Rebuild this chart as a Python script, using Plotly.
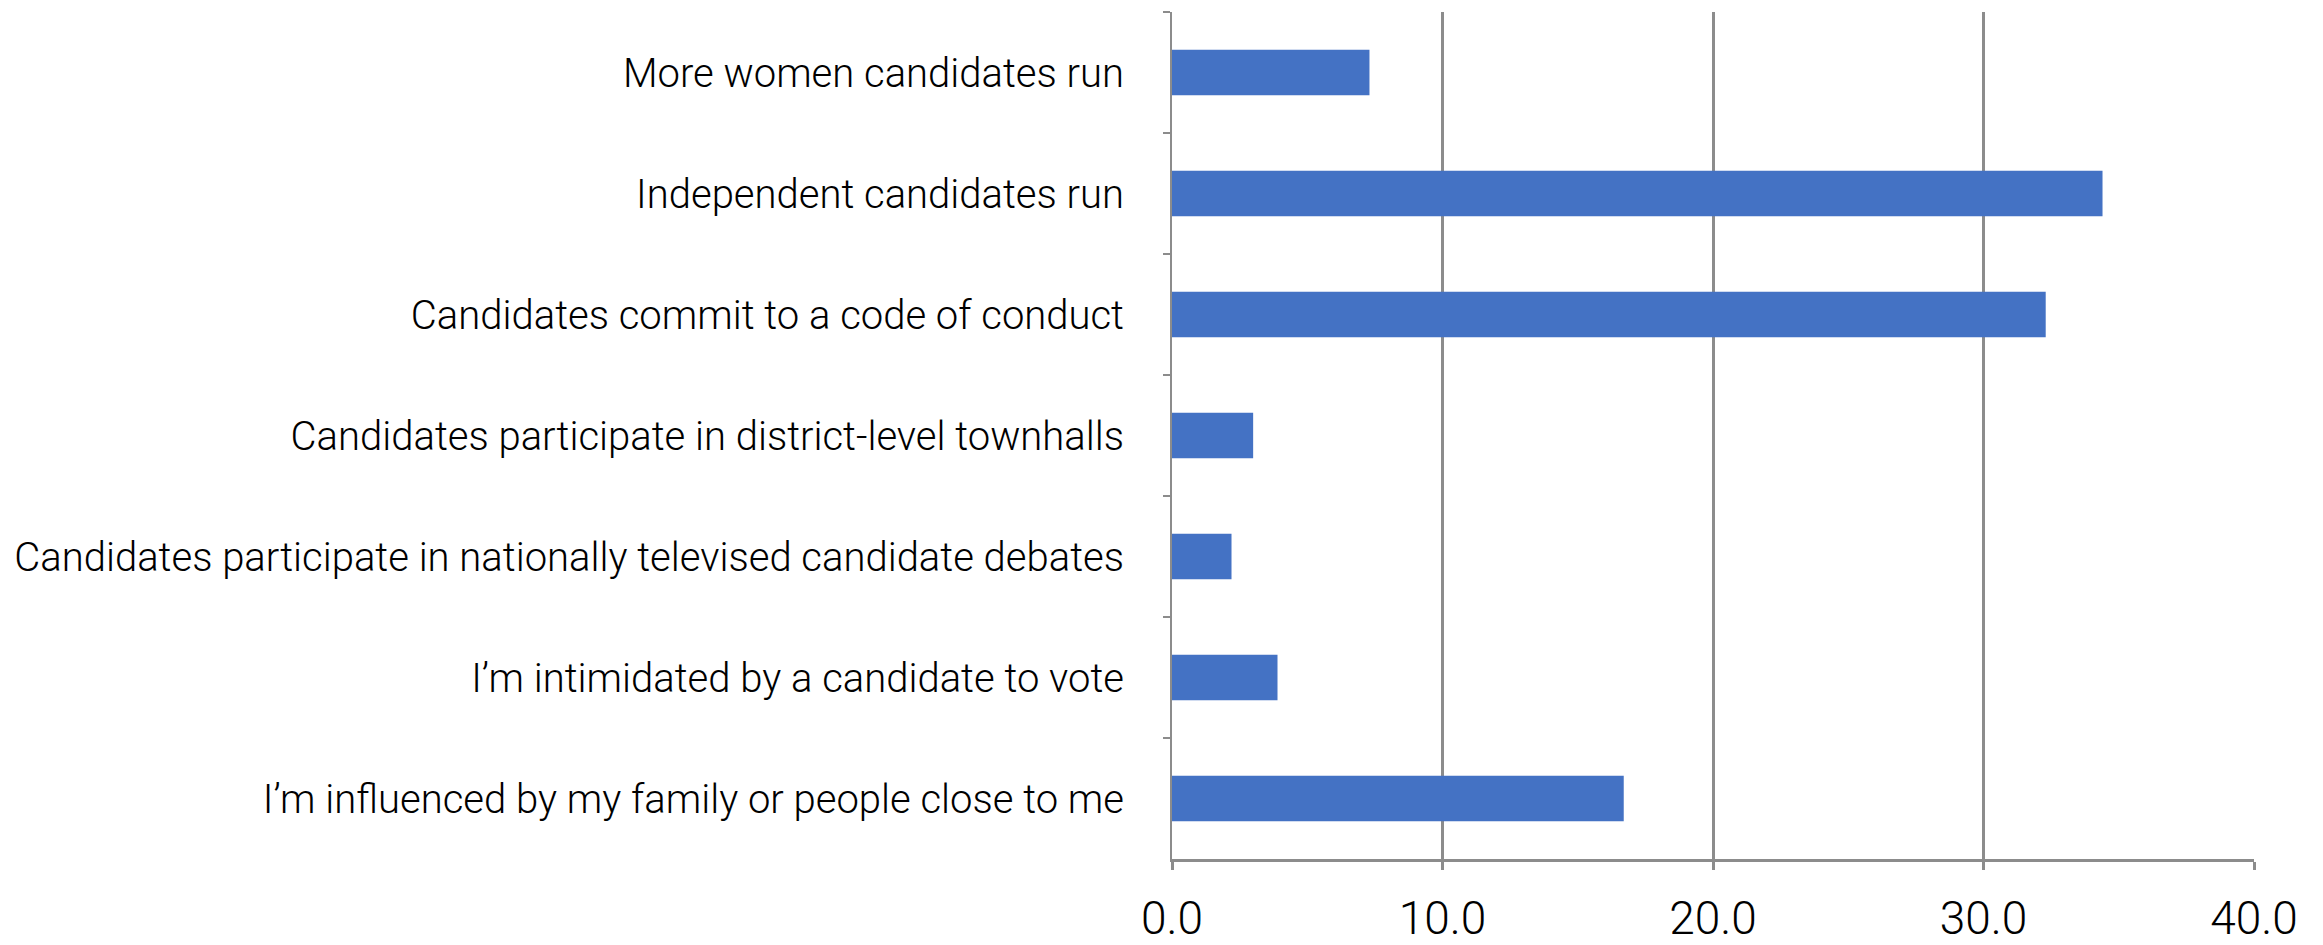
import plotly.graph_objects as go

categories = [
    "More women candidates run",
    "Independent candidates run",
    "Candidates commit to a code of conduct",
    "Candidates participate in district-level townhalls",
    "Candidates participate in nationally televised candidate debates",
    "I\u2019m intimidated by a candidate to vote",
    "I\u2019m influenced by my family or people close to me",
]
values = [7.3, 34.4, 32.3, 3.0, 2.2, 3.9, 16.7]
x_ticks = [0, 10, 20, 30, 40]

GRAY = "#8c8c8c"
FONT = "Roboto"

fig = go.Figure(
    go.Bar(
        y=categories,
        x=values,
        orientation="h",
        marker=dict(color="#4472C4", line=dict(width=0)),
    )
)

fig.update_layout(
    width=2315,
    height=937,
    autosize=False,
    margin=dict(l=1164, r=69, t=4, b=86),
    paper_bgcolor="white",
    plot_bgcolor="white",
    bargap=0.625,
    showlegend=False,
    font=dict(family=FONT, color="#000000", weight=300),
)

fig.update_xaxes(
    range=[0, 40],
    tickvals=x_ticks,
    tickformat=".1f",
    showgrid=True,
    gridcolor=GRAY,
    gridwidth=2.5,
    zeroline=False,
    showline=True,
    linecolor=GRAY,
    linewidth=3,
    ticks="outside",
    ticklen=8,
    tickwidth=2.5,
    tickcolor=GRAY,
    tickfont=dict(family=FONT, size=46, color="#000000", weight=300),
    ticklabelstandoff=9,
    automargin=False,
)

fig.update_yaxes(
    type="category",
    autorange="reversed",
    tickson="boundaries",
    showgrid=False,
    showline=True,
    linecolor=GRAY,
    linewidth=2,
    ticks="outside",
    ticklen=7,
    tickwidth=2,
    tickcolor=GRAY,
    tickfont=dict(family=FONT, size=40, color="#000000", weight=300),
    ticklabelstandoff=38,
    automargin=False,
)

fig.write_html("out.html")
